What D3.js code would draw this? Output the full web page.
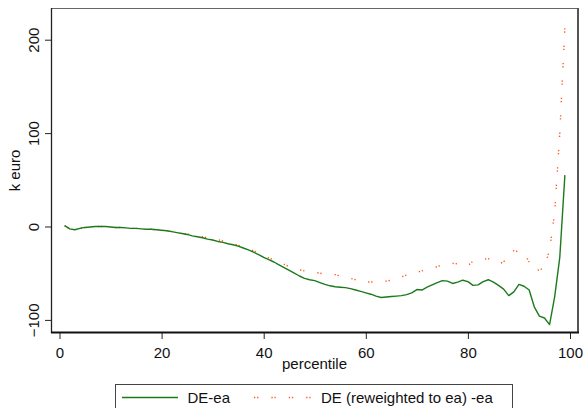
<!DOCTYPE html>
<html>
<head>
<meta charset="utf-8">
<script src="https://cdn.jsdelivr.net/npm/d3@7"></script>
<style>
    body { margin: 0; background: #ffffff; }
    svg { display: block; font-family: "Liberation Sans", Arial, sans-serif; }
</style>
</head>
<body>
<svg id="chart"></svg>
<script>
const width = 584;
const height = 408;

// percentiles 1..99
const percentiles = d3.range(1, 100);

// DE-ea, k euro
const deEa = [
    1, -2.5, -3.5, -2, -1, -0.5, 0, 0, 0, -0.5,
    -1, -1, -1.5, -2, -2, -2.5, -3, -3, -3.5, -4,
    -4.5, -5.5, -6.5, -7.5, -8.5, -10, -11, -12, -13.5, -14.5,
    -16, -17, -18.5, -19.5, -21, -23, -25, -27.5, -30, -33,
    -35.5, -38, -41, -44, -47, -50, -53, -55.5, -57, -58,
    -60, -62, -63.5, -64.5, -65, -65.5, -66.5, -68, -69.5, -71,
    -72.5, -74.5, -76, -75.5, -75, -74.5, -74, -73, -71, -67.5,
    -68, -65, -62.5, -60, -58, -58.5, -61, -59.5, -57.5, -59,
    -63, -62.5, -59, -57, -59.5, -63, -67, -74, -70, -62,
    -64, -68, -86, -96, -98, -105, -75, -33, 55
];

// DE (reweighted to ea) -ea, k euro
const deReweighted = [
    1, -2.5, -3.5, -2, -1, -0.5, 0, 0, 0, -0.5,
    -1, -1, -1.5, -2, -2, -2.5, -3, -3, -3.5, -4,
    -4.5, -5.5, -6.5, -7.5, -8, -9, -10, -11, -12, -12.5,
    -14, -15.5, -17, -18.5, -20, -22, -24, -26, -28.5, -31,
    -33.5, -36, -38.5, -40.5, -43, -45.5, -46.5, -47.5, -48.5, -49,
    -50, -51, -51.5, -51.5, -53, -55, -55.5, -57, -59.5, -59.5,
    -59.5, -59.5, -59, -58.5, -57.5, -56, -54, -52, -50, -49,
    -47.5, -46, -44.5, -43, -41, -40, -39.5, -40, -42, -42,
    -37, -36, -35, -34.5, -37, -40, -38, -30, -26, -27,
    -28.5, -38, -47, -46.5, -44, -25, 15, 100, 213
];

const xTicks = [0, 20, 40, 60, 80, 100];
const yTicks = [-100, 0, 100, 200];
const seriesNames = ["DE-ea", "DE (reweighted to ea) -ea"];

const green = "#1c7a1c";
const orange = "#ff5a1a";
const dots = "1.3,1.8,1.3,13";

// plot region frame
const frame = {left: 51, right: 578, top: 8, bottom: 333};

const svg = d3.select("#chart")
    .attr("width", width)
    .attr("height", height);

const x = d3.scaleLinear().domain([0, 100]).range([59.5, 570]);
const y = d3.scaleLinear().domain([-100, 200]).range([319.9, 39.7]);

// frame lines (top/right grey, left/bottom axis)
svg.append("line")
    .attr("x1", frame.left).attr("x2", frame.right)
    .attr("y1", frame.top + 0.5).attr("y2", frame.top + 0.5)
    .attr("stroke", "#666").attr("stroke-width", 1);
svg.append("line")
    .attr("x1", frame.right).attr("x2", frame.right)
    .attr("y1", frame.top).attr("y2", frame.bottom)
    .attr("stroke", "#555").attr("stroke-width", 2);
svg.append("line")
    .attr("x1", frame.left + 0.5).attr("x2", frame.left + 0.5)
    .attr("y1", frame.top).attr("y2", frame.bottom)
    .attr("stroke", "#222").attr("stroke-width", 1.3);
svg.append("line")
    .attr("x1", frame.left).attr("x2", frame.right + 1)
    .attr("y1", frame.bottom - 0.5).attr("y2", frame.bottom - 0.5)
    .attr("stroke", "#111").attr("stroke-width", 2);

// axes
const xAxis = svg.append("g")
    .attr("transform", `translate(0,${frame.bottom})`)
    .call(d3.axisBottom(x).tickValues(xTicks).tickSize(6).tickSizeOuter(0));

xAxis.select(".domain").remove();
xAxis.selectAll("line").attr("stroke", "#222");
xAxis.selectAll("text")
    .attr("y", 24.5).attr("dy", 0)
    .style("font-size", "15px")
    .style("font-family", "Liberation Sans, Arial, sans-serif")
    .attr("fill", "#111");

const yAxis = svg.append("g")
    .attr("transform", `translate(${frame.left},0)`)
    .call(d3.axisLeft(y).tickValues(yTicks).tickSize(6).tickSizeOuter(0));

yAxis.select(".domain").remove();
yAxis.selectAll("line").attr("stroke", "#222");
yAxis.selectAll("text")
    .attr("transform", "rotate(-90)")
    .attr("x", 0).attr("y", -12).attr("dy", 0)
    .style("text-anchor", "middle")
    .style("font-size", "15px")
    .style("font-family", "Liberation Sans, Arial, sans-serif")
    .attr("fill", "#111");

// axis titles
svg.append("text")
    .attr("x", (frame.left + frame.right) / 2)
    .attr("y", 368.5)
    .attr("text-anchor", "middle")
    .style("font-size", "15px")
    .attr("fill", "#111")
    .text("percentile");

svg.append("text")
    .attr("transform", `translate(19.5,${(frame.top + frame.bottom) / 2}) rotate(-90)`)
    .attr("text-anchor", "middle")
    .style("font-size", "15px")
    .attr("fill", "#111")
    .text("k euro");

// lines
const line = d3.line()
    .x((d, i) => x(percentiles[i]))
    .y(d => y(d));

svg.append("path")
    .datum(deReweighted)
    .attr("fill", "none")
    .attr("stroke", orange)
    .attr("stroke-width", 1.4)
    .attr("stroke-dasharray", dots)
    .attr("d", line);

svg.append("path")
    .datum(deEa)
    .attr("fill", "none")
    .attr("stroke", green)
    .attr("stroke-width", 1.4)
    .attr("stroke-linejoin", "round")
    .attr("d", line);

// legend
const legend = svg.append("g");

legend.append("rect")
    .attr("x", 115.5).attr("y", 384.5)
    .attr("width", 397).attr("height", 40)
    .attr("fill", "#fff")
    .attr("stroke", "#444").attr("stroke-width", 1);

legend.append("line")
    .attr("x1", 122).attr("x2", 178)
    .attr("y1", 397.5).attr("y2", 397.5)
    .attr("stroke", green).attr("stroke-width", 1.4);

legend.append("text")
    .attr("x", 187.5).attr("y", 403)
    .style("font-size", "15px")
    .attr("fill", "#111")
    .text(seriesNames[0]);

legend.append("line")
    .attr("x1", 254).attr("x2", 311)
    .attr("y1", 397.5).attr("y2", 397.5)
    .attr("stroke", orange).attr("stroke-width", 1.4)
    .attr("stroke-dasharray", dots);

legend.append("text")
    .attr("x", 321).attr("y", 403)
    .style("font-size", "15px")
    .attr("fill", "#111")
    .text(seriesNames[1]);
</script>
</body>
</html>
